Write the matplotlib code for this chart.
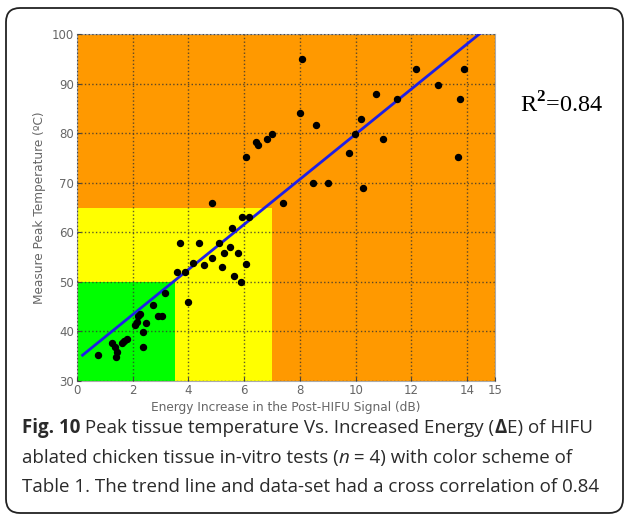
import numpy as np
import matplotlib
matplotlib.use('Agg')
import matplotlib.pyplot as plt
from matplotlib.patches import Rectangle, FancyBboxPatch
from matplotlib.transforms import IdentityTransform

energy_db = [0.77, 1.24, 1.36, 1.42, 1.40, 1.60, 1.70, 1.78, 2.08, 2.14,
             2.20, 2.26, 2.38, 2.38, 2.48, 2.73, 2.92, 3.04, 3.17,
             3.58, 3.88, 3.70, 3.99, 4.17, 4.39, 4.56, 4.83, 5.10, 5.19,
             5.29, 5.49, 5.55, 5.65, 5.79, 5.88, 5.91, 6.06, 6.17,
             4.83, 7.38, 6.06, 6.42, 6.51, 6.81, 7.01, 8.00, 8.06, 8.48,
             8.58, 9.00, 9.77, 9.97, 10.18, 10.25, 10.73, 10.99, 11.49,
             12.16, 12.96, 13.66, 13.74, 13.90]
peak_temp = [35.2, 37.7, 36.9, 35.9, 34.9, 37.6, 38.1, 38.4, 41.3, 42.0,
             43.1, 43.6, 39.9, 36.9, 41.8, 45.3, 43.1, 43.1, 47.8,
             52.0, 52.0, 57.9, 46.0, 53.9, 57.9, 53.4, 54.9, 57.9, 52.9,
             55.9, 57.1, 60.8, 51.2, 55.9, 49.9, 63.1, 53.7, 63.1,
             65.9, 65.9, 75.1, 78.2, 77.7, 78.9, 79.9, 84.0, 94.9, 70.0,
             81.7, 70.0, 75.9, 79.9, 82.8, 69.0, 87.9, 78.9, 86.9,
             92.9, 89.8, 75.1, 86.9, 92.9]

# trend line
trend_slope = 4.55
trend_intercept = 34.3
trend_x = [0.2, 14.7]

# colour zones (x max, y max) from Table 1
zone_limits = [(15, 100), (7, 65), (3.5, 50)]
zone_colors = ['#ff9900', '#ffff00', '#00ff00']

x_ticks = [0, 2, 4, 6, 8, 10, 12, 14, 15]
y_ticks = [30, 40, 50, 60, 70, 80, 90, 100]

fig = plt.figure(figsize=(6.24, 5.15), dpi=100)
ax = fig.add_axes([77 / 624, 134 / 515, 418 / 624, 347 / 515])

for (xm, ym), c in zip(zone_limits, zone_colors):
    ax.add_patch(Rectangle((0, 30), xm, ym - 30, facecolor=c, edgecolor='none', zorder=0))

ax.set_xlim(0, 15)
ax.set_ylim(30, 100)
ax.set_xticks(x_ticks)
ax.set_yticks(y_ticks)
ax.grid(True, linestyle=':', color='#333333', linewidth=1.0, alpha=0.8)
ax.set_axisbelow(False)

tx = np.array(trend_x)
ax.plot(tx, trend_slope * tx + trend_intercept, color='#1f1fe6', lw=2, zorder=3)
ax.plot(energy_db, peak_temp, 'o', color='black', markersize=4.3, zorder=4)

ax.tick_params(direction='in', length=3, colors='#444444', labelcolor='#666666',
               labelsize=8.5, pad=2)
for s in ax.spines.values():
    s.set_color('#aaaaaa')
    s.set_linewidth(0.8)

ax.set_xlabel('Energy Increase in the Post-HIFU Signal (dB)', fontsize=8.7, color='#666666', labelpad=3)
ax.set_ylabel('Measure Peak Temperature (ºC)', fontsize=8.7, color='#666666', labelpad=4)

# R^2 annotation
plt.rcParams['mathtext.fontset'] = 'custom'
plt.rcParams['mathtext.rm'] = 'Liberation Serif'
plt.rcParams['mathtext.bf'] = 'Liberation Serif:bold'
fig.text(520 / 624, 1 - 105 / 515, r'R$^{\mathbf{2}}$=0.84', family='Liberation Serif',
         fontsize=17.5, va='center', ha='left')

# rounded frame
fig.patches.append(FancyBboxPatch((6, 2), 617, 505, boxstyle='round,pad=0,rounding_size=14',
                                  transform=IdentityTransform(), fill=False, lw=1.3,
                                  ec='#222222', figure=fig))

# caption with mixed styles
caption = [
    [('Fig. 10', 'bold', 'normal'), (' Peak tissue temperature Vs. Increased Energy (', 'normal', 'normal'),
     ('Δ', 'bold', 'normal'), ('E) of HIFU', 'normal', 'normal')],
    [('ablated chicken tissue in-vitro tests (', 'normal', 'normal'), ('n', 'normal', 'italic'),
     (' = 4) with color scheme of', 'normal', 'normal')],
    [('Table 1. The trend line and data-set had a cross correlation of 0.84', 'normal', 'normal')],
]
renderer = fig.canvas.get_renderer()
line_y = [428, 458, 487]
for pieces, yy in zip(caption, line_y):
    x = 22
    for txt, weight, style in pieces:
        t = fig.text(x / 624, 1 - yy / 515, txt, family='Open Sans', fontsize=13.5,
                     weight=weight, style=style, va='center', ha='left', color='#2a2a2a')
        bb = t.get_window_extent(renderer)
        x = bb.x1

fig.savefig('out.png', dpi=100)
